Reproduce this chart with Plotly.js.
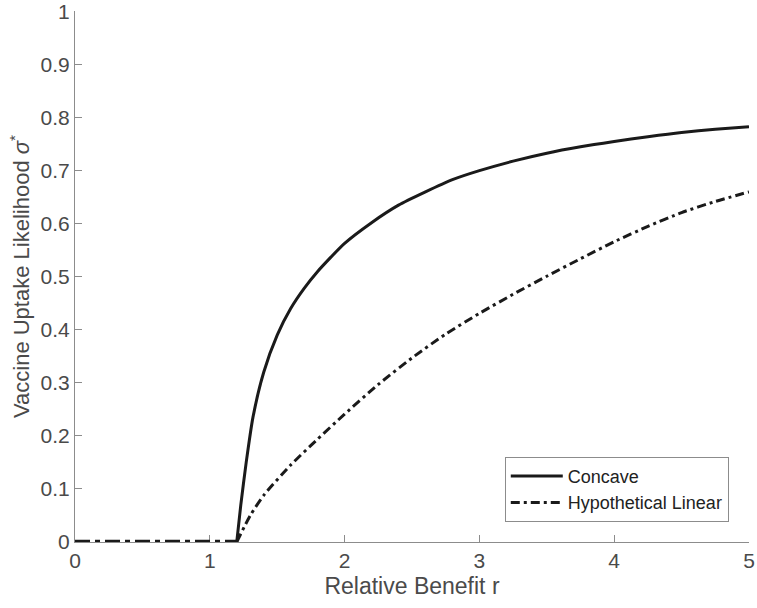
<!DOCTYPE html>
<html>
<head>
<meta charset="utf-8">
<script src="https://cdn.plot.ly/plotly-3.0.1.min.js"></script>
<style>
  body { margin: 0; background: #fff; }
  #chart { width: 757px; height: 608px; }
</style>
</head>
<body>
<div id="chart"></div>
<script>
// concave curve (starts at the threshold r = 1.2)
const concave_r = [1.2, 1.23, 1.27, 1.32, 1.4, 1.5, 1.6, 1.7, 1.8, 2.0, 2.2, 2.4, 2.6, 2.8, 3.0, 3.25, 3.5, 3.75, 4.0, 4.25, 4.5, 4.75, 5];
const concave_sigma = [0, 0.07, 0.15, 0.235, 0.32, 0.39, 0.44, 0.478, 0.51, 0.563, 0.602, 0.635, 0.66, 0.683, 0.700, 0.718, 0.733, 0.745, 0.755, 0.764, 0.772, 0.778, 0.783];

// hypothetical linear curve: zero below the threshold, then rising
const flat_r = [0, 1.2];
const flat_sigma = [0, 0];
const linear_r = [1.2, 1.3, 1.4, 1.6, 1.8, 2.0, 2.25, 2.5, 2.75, 3.0, 3.25, 3.5, 3.75, 4.0, 4.25, 4.5, 4.75, 5];
const linear_sigma = [0, 0.05, 0.088, 0.145, 0.194, 0.241, 0.297, 0.347, 0.392, 0.431, 0.467, 0.501, 0.534, 0.566, 0.595, 0.621, 0.642, 0.660];

const xTicks = [0, 1, 2, 3, 4, 5];
const yTicks = [0, 0.1, 0.2, 0.3, 0.4, 0.5, 0.6, 0.7, 0.8, 0.9, 1];

const axisColor = "#8c8c8c";
const textColor = "#4a4a4a";
const fontFam = "Liberation Sans, Arial, sans-serif";

let traceConcave = {
  type: "scatter",
  mode: "lines",
  x: concave_r,
  y: concave_sigma,
  name: "Concave",
  cliponaxis: false,
  line: { color: "#1a1a1a", width: 3, shape: "spline", smoothing: 0.6 },
};

let traceLinear = {
  type: "scatter",
  mode: "lines",
  x: linear_r,
  y: linear_sigma,
  name: "Hypothetical Linear",
  legendgroup: "lin",
  cliponaxis: false,
  line: { color: "#1a1a1a", width: 3, dash: "9px,4px,3px,4px", shape: "spline", smoothing: 0.6 },
};

let traceFlat = {
  type: "scatter",
  mode: "lines",
  x: flat_r,
  y: flat_sigma,
  name: "Hypothetical Linear",
  legendgroup: "lin",
  showlegend: false,
  cliponaxis: false,
  line: { color: "#1a1a1a", width: 4.5, dash: "15px,5px,5px,5px" },
};

let axisBase = {
  ticks: "inside",
  ticklen: 7,
  tickcolor: axisColor,
  showline: true,
  linecolor: axisColor,
  linewidth: 1,
  showgrid: false,
  zeroline: false,
  layer: "below traces",
  ticklabeloverflow: "allow",
  tickfont: { size: 21, color: textColor },
};

let layout = {
  width: 757,
  height: 608,
  margin: { l: 75, r: 8, t: 11, b: 66 },
  paper_bgcolor: "#fff",
  plot_bgcolor: "#fff",
  showlegend: true,
  font: { family: fontFam, color: textColor, size: 21 },
  xaxis: Object.assign({}, axisBase, {
    range: [0, 5],
    tickvals: xTicks,
    ticktext: xTicks.map(String),
    title: { text: "Relative Benefit r", font: { size: 23, color: textColor }, standoff: 6 },
  }),
  yaxis: Object.assign({}, axisBase, {
    range: [0, 1.001],
    tickvals: yTicks,
    ticktext: yTicks.map(String),
    title: { text: "Vaccine Uptake Likelihood <i>σ</i><sup>*</sup>", font: { size: 22, color: textColor }, standoff: 4 },
  }),
  legend: {
    x: 0.970,
    y: 0.038,
    xanchor: "right",
    yanchor: "bottom",
    bgcolor: "#fff",
    bordercolor: "#8c8c8c",
    borderwidth: 1,
    itemwidth: 52,
    font: { size: 18, color: "#222" },
    tracegroupgap: 0,
  },
};

Plotly.newPlot("chart", [traceConcave, traceFlat, traceLinear], layout, { displayModeBar: false });
</script>
</body>
</html>
